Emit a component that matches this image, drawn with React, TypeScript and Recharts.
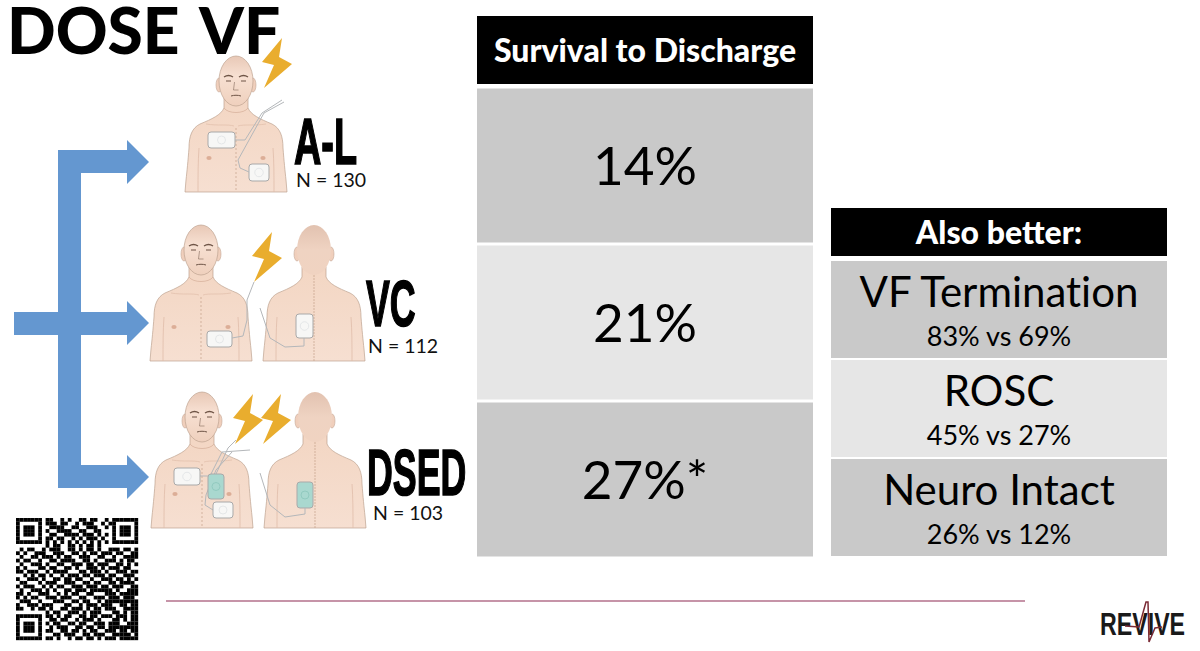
import { BarChart, Bar, Cell, XAxis, YAxis, LabelList } from "recharts";

const FONT = "Lato, 'Open Sans', sans-serif";
const HEAVY = "'Liberation Sans', sans-serif";

const armNames = ["A-L", "VC", "DSED"];
const armCounts = [130, 112, 103];
const survivalPct = [14, 21, 27];
const survivalMarks = ["", "", "*"];

const outcomeNames = ["VF Termination", "ROSC", "Neuro Intact"];
const outcomeDsed = [83, 45, 26];
const outcomeStandard = [69, 27, 12];

const rowFills = ["#c9c9c9", "#e6e6e6", "#c9c9c9"];

const survivalRows = armNames.map((name, i) => ({
  name,
  cell: 100,
  text: `${survivalPct[i]}%${survivalMarks[i]}`,
}));

const outcomeRows = outcomeNames.map((name, i) => ({
  name,
  cell: 100,
  text: name,
  sub: `${outcomeDsed[i]}% vs ${outcomeStandard[i]}%`,
}));

const qrRows = [
  "1111111" + "0110010100110110010" + "1111111",
  "1000001" + "0111011001011100101" + "1000001",
  "1011101" + "0011110011001110010" + "1011101",
  "1011101" + "0100111100110011000" + "1011101",
  "1011101" + "0011001111011101010" + "1011101",
  "1000001" + "0110110010101110100" + "1000001",
  "1111111" + "0101010101010101010" + "1111111",
  "00000000" + "10110011010110100" + "00000000",
  "01011001011" + "10011010110" + "10011101101",
  "10100111001" + "11001101011" + "01110110011",
  "01001101110" + "10110011100" + "11001001111",
  "10110010011" + "01111001101" + "00111010110",
  "01001110100" + "11001110110" + "11100110101",
  "10100011011" + "00110100111" + "01011101100",
  "11011100101" + "11100011011" + "10100111011",
  "00101011010" + "01011101101" + "11011001110",
  "10011101001" + "10110110010" + "01110110101",
  "01100010111" + "00111001101" + "10011011110",
  "10111001010" + "11001110111" + "01101110011",
  "01001110101" + "00110111011" + "11110100111",
  "11010011100" + "10101100110" + "00111011111",
  "10101100111" + "01110011001" + "11011101110",
  "01110010001" + "11001101100" + "10111111111",
  "10011101110" + "00110010111" + "01110011011",
  "11001011010" + "01101110101" + "10111001111",
  "00000000101" + "10011101011" + "10001101011",
  "1111111" + "01101011001101101110111011",
  "1000001" + "00110110010111010001101011",
  "1011101" + "01011001101100111011100111",
  "1011101" + "00101110011011011011111111",
  "1011101" + "01100110110101100111011011",
  "1000001" + "00011011100110111001111101",
  "1111111" + "01101001011011010111011111",
];

const Bolt = ({ x, y }: { x: number; y: number }) => (
  <path
    transform={`translate(${x},${y})`}
    d="M20,0 L0,24 L12,27 L2,50 L30,26 L17,19 Z"
    fill="#e9ad2e"
  />
);

const BODY =
  "M-12,42 L-12,52 C-15,59 -24,63 -36,68 C-44,72 -47,80 -47,92 C-48,105 -49,115 -50,124 L-51,136 L51,136 L50,124 C49,115 48,105 47,92 C47,80 44,72 36,68 C24,63 15,59 12,52 L12,42 Z";

const Ears = () => (
  <>
    <ellipse cx={-17} cy={29} rx={3} ry={7} fill="#f0cfbc" stroke="#c4a897" strokeWidth={0.6} />
    <ellipse cx={17} cy={29} rx={3} ry={7} fill="#f0cfbc" stroke="#c4a897" strokeWidth={0.6} />
  </>
);

const ArmLines = () => (
  <g fill="none" stroke="#e0bda9" strokeWidth={0.8}>
    <path d="M-37,92 C-38,105 -38,120 -38,136" />
    <path d="M37,92 C38,105 38,120 38,136" />
  </g>
);

const FrontPerson = ({ x, y }: { x: number; y: number }) => (
  <g transform={`translate(${x},${y})`}>
    <path d={BODY} fill="url(#skin)" stroke="#bda28f" strokeWidth={0.7} />
    <ArmLines />
    <path d="M-30,68 C-18,70 -8,68 -2,70 M30,68 C18,70 8,68 2,70" fill="none" stroke="#e0bda9" strokeWidth={0.7} />
    <path d="M-12,52 C-8,58 8,58 12,52" fill="none" stroke="#d4ae98" strokeWidth={0.7} />
    <line x1={0} y1={72} x2={0} y2={136} stroke="#c4a08b" strokeWidth={0.7} strokeDasharray="2 2" />
    <ellipse cx={-27} cy={102} rx={2.6} ry={2} fill="#dcae97" />
    <ellipse cx={27} cy={102} rx={2.6} ry={2} fill="#dcae97" />
    <Ears />
    <ellipse cx={0} cy={25} rx={17} ry={25} fill="url(#head)" stroke="#bda28f" strokeWidth={0.7} />
    <g fill="none" stroke="#6f5547" strokeWidth={1}>
      <path d="M-12,21 C-9,19 -6,19 -3,21 M3,21 C6,19 9,19 12,21" strokeWidth={1.4} />
      <path d="M-10,25 L-5,25 M5,25 L10,25" />
      <path d="M-1.5,26 L-2.5,34 L2.5,34" strokeWidth={0.5} />
      <path d="M-5,40 C-2,39 2,39 5,40" />
    </g>
  </g>
);

const BackPerson = ({ x, y }: { x: number; y: number }) => (
  <g transform={`translate(${x},${y})`}>
    <path d={BODY} fill="url(#skin)" stroke="#bda28f" strokeWidth={0.7} />
    <ArmLines />
    <line x1={0} y1={50} x2={0} y2={136} stroke="#c4a08b" strokeWidth={0.7} strokeDasharray="2 1" />
    <Ears />
    <ellipse cx={0} cy={25} rx={17} ry={25} fill="url(#skull)" stroke="none" />
  </g>
);

const Pad = ({ x, y, w, h, teal }: { x: number; y: number; w: number; h: number; teal?: boolean }) => (
  <g>
    <rect x={x} y={y} width={w} height={h} rx={3} fill={teal ? "#a9d8cf" : "#f7f7f6"} stroke="#a9a9a9" strokeWidth={1} />
    <circle cx={x + w / 2} cy={y + h / 2} r={Math.min(w, h) / 4} fill="none" stroke={teal ? "#8cc6bb" : "#dfe2e4"} strokeWidth={0.8} />
  </g>
);

const Wire = ({ d }: { d: string }) => (
  <path d={d} fill="none" stroke="#b4b7ba" strokeWidth={1} />
);

// title, arrows, people, logo and QR sit under the two tables
const Slide = () => (
  <svg width={1200} height={651} style={{ position: "absolute", left: 0, top: 0 }}>
    <defs>
      <linearGradient id="skin" x1="0" y1="0" x2="0" y2="1">
        <stop offset="0%" stopColor="#f3d6c3" />
        <stop offset="100%" stopColor="#f6dfd1" />
      </linearGradient>
      <linearGradient id="head" x1="0" y1="0" x2="0" y2="1">
        <stop offset="0%" stopColor="#e8c8b6" />
        <stop offset="40%" stopColor="#f7e0d2" />
        <stop offset="100%" stopColor="#efd0bd" />
      </linearGradient>
      <linearGradient id="skull" x1="0" y1="0" x2="0" y2="1">
        <stop offset="0%" stopColor="#e2c2b0" />
        <stop offset="50%" stopColor="#efd3c2" />
        <stop offset="100%" stopColor="#f0d3c1" />
      </linearGradient>
    </defs>

    <text x={7} y={54} fontFamily={FONT} fontWeight={900} fontSize={64} fill="#000">
      DOSE
    </text>
    <text x={199} y={54} fontFamily={FONT} fontWeight={900} fontSize={64} fill="#000">
      VF
    </text>

    <path
      d="M14,312 H58 V150 H127 V140 L149,162 L127,184 V173 H81 V312 H127 V301 L149,323 L127,345 V335 H81 V465 H127 V455 L149,477 L127,499 V488 H58 V335 H14 Z"
      fill="#6497d0"
    />

    <FrontPerson x={236} y={56} />
    <Pad x={208} y={132} w={27} h={16} />
    <Pad x={249} y={164} w={20} h={17} />
    <Wire d="M235,140 H245 L262,113 L282,100" />
    <Wire d="M249,172 L240,168 L238,160 L264,113 L284,102" />
    <Bolt x={262} y={38} />

    <FrontPerson x={201} y={225} />
    <BackPerson x={314} y={225} />
    <Pad x={207} y={331} w={25} h={16} />
    <Pad x={296} y={314} w={17} h={24} />
    <Wire d="M232,338 L243,336 L247,320 L247,300 L254,282" />
    <Wire d="M304,338 V346 L285,347 L270,338 L260,308" />
    <Bolt x={252} y={232} />

    <FrontPerson x={202} y={392} />
    <BackPerson x={315} y={392} />
    <Wire d="M199,476 H210 L222,452 L250,450" />
    <Wire d="M216,474 L228,448 L236,440" />
    <Wire d="M213,510 L205,505 L206,495 L216,470 L232,452" />
    <Pad x={174} y={468} w={26} h={17} />
    <Pad x={208} y={474} w={16} h={25} teal />
    <Pad x={213} y={502} w={20} h={16} />
    <Pad x={297} y={482} w={16} h={26} teal />
    <Wire d="M305,508 V514 L285,517 L270,505 L260,473" />
    <Bolt x={233} y={394} />
    <Bolt x={261} y={394} />

    {armNames.map((name, i) => (
      <text
        key={name}
        transform={`translate(${[294, 366, 367][i]},${[164, 326, 495][i]}) scale(${[0.583, 0.55, 0.55][i]},1)`}
        fontFamily={HEAVY}
        fontWeight={700}
        fontSize={65}
        stroke="#000"
        strokeWidth={1.6}
        fill="#000"
      >
        {name}
      </text>
    ))}
    {armCounts.map((n, i) => (
      <text
        key={n}
        x={[296, 368, 373][i]}
        y={[187, 353, 520][i]}
        fontFamily={FONT}
        fontSize={19.5}
        fill="#111"
      >
        {`N = ${n}`}
      </text>
    ))}

    <g transform="translate(16,518) scale(3.7)" fill="#000">
      {qrRows.flatMap((row, r) =>
        row.split("").map((c, col) =>
          c === "1" ? <rect key={`${r}-${col}`} x={col} y={r} width={1.02} height={1.02} /> : null
        )
      )}
    </g>

    <line x1={166} y1={601} x2={1025} y2={601} stroke="#b3708b" strokeWidth={1.5} />

    <text transform="translate(1100,635) scale(0.725,1)" fontFamily={HEAVY} fontWeight={700} fontSize={32} fill="#1a1a1a">
      REVIVE
    </text>
    <polyline
      points="1125,626 1139,627 1146,602 1148,602 1149,642 1155,628 1162,627"
      fill="none"
      stroke="#7a2a35"
      strokeWidth={1.5}
    />
  </svg>
);

type HeaderProps = { left: number; top: number; width: number; height: number; title: string; size: number };

const HeaderCell = ({ left, top, width, height, title, size }: HeaderProps) => (
  <div style={{ position: "absolute", left, top }}>
    <BarChart
      width={width}
      height={height}
      data={[{ name: title, cell: 100 }]}
      layout="vertical"
      margin={{ top: 0, right: 0, bottom: 0, left: 0 }}
      barCategoryGap={0}
    >
      <XAxis type="number" domain={[0, 100]} hide />
      <YAxis type="category" dataKey="name" hide />
      <Bar dataKey="cell" fill="#000" isAnimationActive={false}>
        <LabelList
          dataKey="name"
          content={(p: any) => (
            <text
              x={p.x + p.width / 2}
              y={p.y + p.height / 2 + size * 0.36}
              textAnchor="middle"
              fontFamily={FONT}
              fontWeight={900}
              fontSize={size}
              fill="#fff"
            >
              {p.value}
            </text>
          )}
        />
      </Bar>
    </BarChart>
  </div>
);

const SurvivalTable = () => (
  <div style={{ position: "absolute", left: 477, top: 86.5 }}>
    <BarChart
      width={336}
      height={471}
      data={survivalRows}
      layout="vertical"
      margin={{ top: 0, right: 0, bottom: 0, left: 0 }}
      barCategoryGap={1.5}
    >
      <XAxis type="number" domain={[0, 100]} hide />
      <YAxis type="category" dataKey="name" hide />
      <Bar dataKey="cell" isAnimationActive={false}>
        {survivalRows.map((row, i) => (
          <Cell key={row.name} fill={rowFills[i]} />
        ))}
        <LabelList
          dataKey="text"
          content={(p: any) => (
            <text
              x={p.x + p.width / 2}
              y={p.y + p.height / 2 + 19}
              textAnchor="middle"
              fontFamily={FONT}
              fontSize={53}
              fill="#000"
            >
              {p.value}
            </text>
          )}
        />
      </Bar>
    </BarChart>
  </div>
);

const OutcomeTable = () => (
  <div style={{ position: "absolute", left: 831, top: 260 }}>
    <BarChart
      width={336}
      height={297}
      data={outcomeRows}
      layout="vertical"
      margin={{ top: 0, right: 0, bottom: 0, left: 0 }}
      barCategoryGap={1}
    >
      <XAxis type="number" domain={[0, 100]} hide />
      <YAxis type="category" dataKey="name" hide />
      <Bar dataKey="cell" isAnimationActive={false}>
        {outcomeRows.map((row, i) => (
          <Cell key={row.name} fill={rowFills[i]} />
        ))}
        <LabelList
          dataKey="text"
          content={(p: any) => (
            <g textAnchor="middle" fill="#000" fontFamily={FONT} style={{ fontVariantLigatures: "none" }}>
              <text x={p.x + p.width / 2} y={p.y + 46} fontSize={42}>
                {p.value}
              </text>
              <text x={p.x + p.width / 2} y={p.y + 85} fontSize={27}>
                {outcomeRows[p.index].sub}
              </text>
            </g>
          )}
        />
      </Bar>
    </BarChart>
  </div>
);

export default function App() {
  return (
    <div style={{ position: "absolute", left: 0, top: 0, width: 1200, height: 651, background: "#fff", overflow: "hidden" }}>
      <Slide />
      <HeaderCell left={477} top={16} width={336} height={68} title="Survival to Discharge" size={32} />
      <SurvivalTable />
      <HeaderCell left={831} top={208} width={336} height={48} title="Also better:" size={32} />
      <OutcomeTable />
    </div>
  );
}
